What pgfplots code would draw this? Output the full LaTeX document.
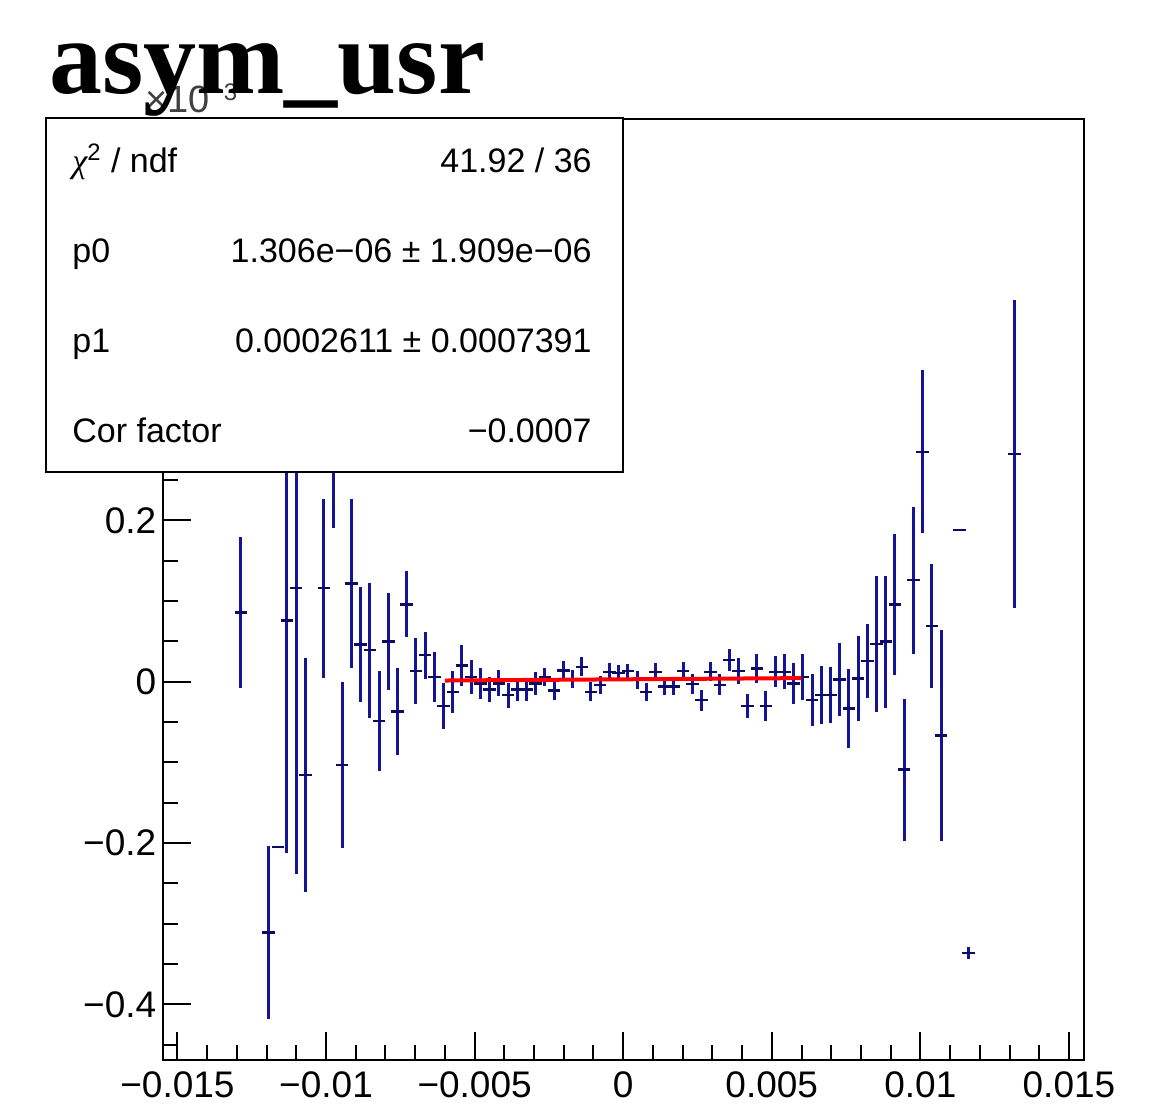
\documentclass[border=0pt]{standalone}
\usepackage{fontspec}
\setmainfont{Liberation Sans}
\newfontfamily\titlefont{Liberation Serif}
\usepackage{pgfplots}
\usepackage{pgfplotstable}
\pgfplotsset{compat=1.18}
\definecolor{rootblue}{RGB}{20,20,150}
\definecolor{rootdark}{RGB}{12,12,100}
\definecolor{rootred}{RGB}{255,0,0}

% bin centre, content (x1e-3), error
\pgfplotstableread{
x y ey
-0.012865 0.086 0.094
-0.011935 -0.311 0.107
-0.011625 -0.205 0
-0.011315 0.076 0.288
-0.011005 0.116 0.355
-0.010695 -0.116 0.145
-0.010075 0.116 0.111
-0.009765 0.36 0.17
-0.009455 -0.103 0.103
-0.009145 0.122 0.105
-0.008835 0.046 0.071
-0.008525 0.039 0.084
-0.008215 -0.049 0.062
-0.007905 0.050 0.060
-0.007595 -0.037 0.054
-0.007285 0.096 0.041
-0.006975 0.013 0.041
-0.006665 0.033 0.029
-0.006355 0.006 0.031
-0.006045 -0.030 0.028
-0.005735 -0.013 0.026
-0.005425 0.020 0.025
-0.005115 0.006 0.021
-0.004805 -0.002 0.019
-0.004495 -0.0095 0.0155
-0.004185 -0.002 0.016
-0.003875 -0.0165 0.0155
-0.003565 -0.0095 0.014
-0.003255 -0.0095 0.014
-0.002945 -0.002 0.014
-0.002635 0.006 0.0115
-0.002325 -0.011 0.012
-0.002015 0.0137 0.012
-0.001705 0.003 0.011
-0.001395 0.0186 0.012
-0.001085 -0.0124 0.012
-0.000775 -0.004 0.011
-0.000465 0.0124 0.011
-0.000155 0.011 0.010
0.000155 0.013 0.009
0.000465 0.002 0.011
0.000775 -0.0124 0.011
0.001085 0.0124 0.011
0.001395 -0.006 0.011
0.001705 -0.006 0.011
0.002015 0.0136 0.011
0.002325 -0.003 0.012
0.002635 -0.0227 0.013
0.002945 0.0124 0.012
0.003255 -0.004 0.013
0.003565 0.027 0.014
0.003875 0.0136 0.016
0.004185 -0.030 0.015
0.004495 0.0166 0.018
0.004805 -0.030 0.019
0.005115 0.0124 0.019
0.005425 0.0124 0.022
0.005735 -0.002 0.025
0.006045 0.006 0.029
0.006355 -0.0227 0.032
0.006665 -0.0165 0.036
0.006975 -0.0165 0.035
0.007285 0.003 0.045
0.007595 -0.033 0.049
0.007905 0.004 0.053
0.008215 0.026 0.046
0.008525 0.047 0.084
0.008835 0.0497 0.082
0.009145 0.0956 0.087
0.009455 -0.109 0.088
0.009765 0.126 0.091
0.010075 0.285 0.101
0.010385 0.069 0.077
0.010695 -0.0666 0.131
0.011315 0.188 0
0.011625 -0.336 0.0077
0.013175 0.282 0.191
}\data

\begin{document}
\begin{tikzpicture}
\path[use as bounding box] (-81.3pt,-26pt) rectangle (504.2pt,530pt);
\begin{axis}[
    at={(0pt,0pt)}, anchor=south west,
    scale only axis,
    width=460.6pt, height=470.6pt,
    xmin=-0.0155, xmax=0.0155,
    ymin=-0.469, ymax=0.698,
    scaled ticks=false,
    axis line style={line width=1pt},
    tick style={black, line width=1pt},
    tick align=inside,
    tick pos=left,
    major tick length=14pt,
    minor tick length=7.5pt,
    xtick={-0.015,-0.01,-0.005,0,0.005,0.01,0.015},
    xticklabels={−0.015,−0.01,−0.005,0,0.005,0.01,0.015},
    minor xtick={-0.014,-0.013,-0.012,-0.011,-0.009,-0.008,-0.007,-0.006,-0.004,-0.003,-0.002,-0.001,0.001,0.002,0.003,0.004,0.006,0.007,0.008,0.009,0.011,0.012,0.013,0.014},
    ytick={-0.4,-0.2,0,0.2,0.4,0.6},
    yticklabels={−0.4,−0.2,0,0.2,0.4,0.6},
    minor ytick={-0.45,-0.35,-0.3,-0.25,-0.15,-0.1,-0.05,0.05,0.1,0.15,0.25,0.3,0.35,0.45,0.5,0.55,0.65},
    xticklabel style={font=\fontsize{18.5}{20}\selectfont, inner sep=0pt, anchor=north, yshift=-5.8pt},
    yticklabel style={font=\fontsize{18.5}{20}\selectfont, inner sep=0pt, anchor=east, xshift=-3pt},
]
% vertical error bars
\addplot[draw=none, mark=none,
    error bars/.cd, y dir=both, y explicit, error mark=none,
    error bar style={line width=1.5pt, rootblue}]
    table[x=x, y=y, y error=ey] {\data};
% horizontal bin-width bars
\addplot[draw=none, mark=none,
    error bars/.cd, x dir=both, x fixed=0.00021, error mark=none,
    error bar style={line width=1.2pt, rootdark}]
    table[x=x, y=y] {\data};
% fit
\addplot[rootred, line width=2pt] coordinates {(-0.006,0.0015) (0.006,0.0045)};
\end{axis}

\node[anchor=base west, inner sep=0pt, font=\fontsize{19}{22}\selectfont, text=black!75] at (-8.8pt,473.5pt) {×10\textsuperscript{\fontsize{12}{14}\selectfont −3}};

% stats box
\draw[line width=1pt, fill=white] (-58.35pt,294pt) rectangle (230.15pt,471pt);
\begin{scope}[every node/.style={inner sep=0pt, font=\fontsize{17}{20}\selectfont}]
\node[anchor=base west] at (-45.3pt,443.5pt) {{\titlefont\itshape χ}\textsuperscript{2} / ndf};
\node[anchor=base east] at (214.7pt,443.5pt) {41.92 / 36};
\node[anchor=base west] at (-45.3pt,398.5pt) {p0};
\node[anchor=base east] at (214.7pt,398.5pt) {1.306e−06 ± 1.909e−06};
\node[anchor=base west] at (-45.3pt,353.5pt) {p1};
\node[anchor=base east] at (214.7pt,353.5pt) {0.0002611 ± 0.0007391};
\node[anchor=base west] at (-45.3pt,308.5pt) {Cor factor};
\node[anchor=base east] at (214.7pt,308.5pt) {−0.0007};
\end{scope}

% title
\node[anchor=base west, inner sep=0pt, font=\titlefont\bfseries\fontsize{53}{60}\selectfont] at (-56.85pt,483.35pt) {asym\_usr};
\end{tikzpicture}
\end{document}
